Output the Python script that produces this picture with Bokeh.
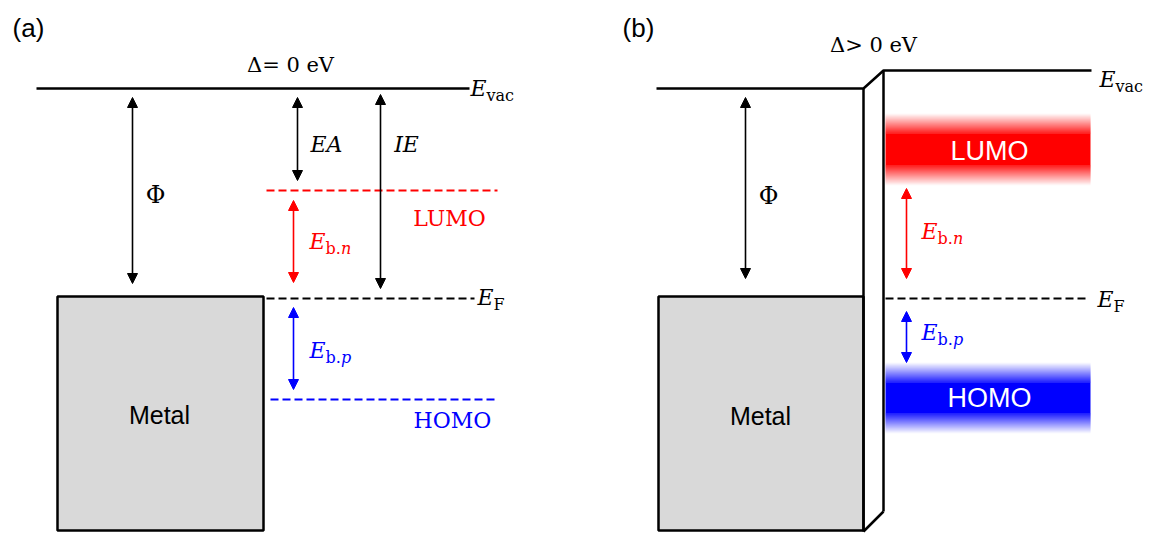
from bokeh.plotting import figure
from bokeh.models import Range1d, Arrow, NormalHead
from bokeh.core.properties import value
from bokeh.embed import file_html
from bokeh.resources import INLINE

# ---------------- data (diagram units: y grows downward) ----------------
# Panel (a)
evac_a = 88
lumo_a = 190
ef_a = 298
homo_a = 399
metal_a = [57, 263, 296, 530]          # left, right, top, bottom
# Panel (b)
evac_b_left = 88
evac_b_right = 70
ef_b = 298
lumo_band_b = [133, 165]                # solid core of LUMO band
homo_band_b = [382, 413]                # solid core of HOMO band
metal_b = [658, 863, 296, 530]
slab_b = [863, 883]                     # interface dipole layer x
# Arrows: x, y_top, y_bottom, colour
arrows_x = [132, 297, 380, 293, 293, 745, 906, 906]
arrows_top = [97, 97, 94, 200, 307, 97, 188, 311]
arrows_bot = [283, 180, 288, 282, 389, 278, 278, 362]
arrows_col = ["black", "black", "black", "red", "blue", "black", "red", "blue"]

RED = "#ff0000"
BLUE = "#0000ff"
SERIF = value("DejaVu Serif")
SANS = value("Liberation Sans")

W, H = 1153, 534
p = figure(width=W, height=H, output_backend="svg", toolbar_location=None,
           x_range=Range1d(0, W), y_range=Range1d(H, 0),
           min_border=0, outline_line_color=None)
p.axis.visible = False
p.xgrid.visible = False
p.ygrid.visible = False
p.background_fill_color = "white"
p.border_fill_color = "white"


def txt(x, y, s, size, color="black", font=SERIF, style="normal",
        align="center", baseline="middle"):
    p.text(x=[x], y=[y], text=[s], text_font=font, text_font_size=f"{size}px",
           text_font_style=style, text_color=color, text_align=align,
           text_baseline=baseline)


def band(core, color_rgb, fade=20):
    top, bot = core
    ys0, ys1, cols = [], [], []
    for i in range(fade):
        t = (i + 0.5) / fade
        c = tuple(int(round(255 + (cc - 255) * t)) for cc in color_rgb)
        hexc = "#%02x%02x%02x" % c
        ys0.append(top - fade + i); ys1.append(top - fade + i + 1.3); cols.append(hexc)
        ys0.append(bot + fade - i - 1.3); ys1.append(bot + fade - i); cols.append(hexc)
    ys0.append(top); ys1.append(bot); cols.append("#%02x%02x%02x" % color_rgb)
    p.quad(left=slab_b[1] + 2, right=1090, top=ys0, bottom=ys1,
           fill_color=cols, line_color=None)


# ---------------- panel (a) ----------------
p.line([36, 469], [evac_a, evac_a], line_color="black", line_width=2.5)
p.line([266, 497], [lumo_a, lumo_a], line_color=RED, line_width=2, line_dash="8 4")
p.line([266, 474], [ef_a, ef_a], line_color="black", line_width=2, line_dash="8 4")
p.line([270, 498], [homo_a, homo_a], line_color=BLUE, line_width=2, line_dash="8 4")
p.quad(left=metal_a[0], right=metal_a[1], top=metal_a[2], bottom=metal_a[3],
       fill_color="#d9d9d9", line_color="black", line_width=2.5)

# ---------------- panel (b) ----------------
band(lumo_band_b, (255, 0, 0))
band(homo_band_b, (0, 0, 255))
p.line([656, slab_b[0], slab_b[1], 1091],
       [evac_b_left, evac_b_left, evac_b_right, evac_b_right],
       line_color="black", line_width=2.5)
p.quad(left=metal_b[0], right=metal_b[1], top=metal_b[2], bottom=metal_b[3],
       fill_color="#d9d9d9", line_color="black", line_width=2.5)
p.line([slab_b[0], slab_b[0]], [evac_b_left, 531], line_color="black", line_width=2.5)
p.line([slab_b[1], slab_b[1]], [evac_b_right, 511], line_color="black", line_width=2.5)
p.line([slab_b[0], slab_b[1]], [531, 511], line_color="black", line_width=2.5)
p.line([885, 1088], [ef_b, ef_b], line_color="black", line_width=2, line_dash="8 4")

# ---------------- arrows ----------------
for x, y0, y1, c in zip(arrows_x, arrows_top, arrows_bot, arrows_col):
    col = {"black": "black", "red": RED, "blue": BLUE}[c]
    p.add_layout(Arrow(x_start=x, y_start=y0, x_end=x, y_end=y1,
                       line_color=col, line_width=1.6,
                       start=NormalHead(size=10, fill_color=col, line_color=col, line_width=1),
                       end=NormalHead(size=10, fill_color=col, line_color=col, line_width=1)))

# ---------------- texts ----------------
txt(28, 27, "(a)", 26, font=SANS)
txt(638, 27, "(b)", 26, font=SANS)
txt(290, 64, "\u0394= 0 eV", 21)
txt(873, 44, "\u0394> 0 eV", 21)


def esub(x, y, sub, color="black", sub_italic=None):
    txt(x, y, "E", 22, color=color, style="italic", align="left")
    txt(x + 16, y + 7, sub, 16, color=color, align="left")
    if sub_italic is not None:
        txt(x + 16 + 15.5, y + 7, sub_italic, 16, color=color, style="italic", align="left")


esub(470, 88, "vac")
esub(1099, 79, "vac")
esub(477, 297, "F")
esub(1097, 299, "F")
esub(309, 241, "b.", RED, "n")
esub(309, 350, "b.", BLUE, "p")
esub(921, 231, "b.", RED, "n")
esub(921, 332, "b.", BLUE, "p")

txt(155, 194, "\u03a6", 24)
txt(768, 195, "\u03a6", 24)
txt(326, 144, "EA", 22, style="italic")
txt(406, 144, "IE", 22, style="italic")
txt(449, 218, "LUMO", 22, color=RED)
txt(452, 420, "HOMO", 22, color=BLUE)
txt(159, 414, "Metal", 25, font=SANS)
txt(760, 415, "Metal", 25, font=SANS)
txt(989, 150, "LUMO", 27, color="white", font=SANS)
txt(989, 397, "HOMO", 27, color="white", font=SANS)

open("out.html", "w").write(file_html(p, INLINE))
